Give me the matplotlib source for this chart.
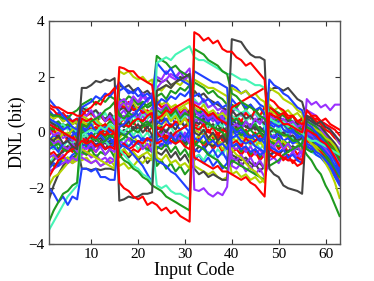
import matplotlib
matplotlib.use("Agg")
import matplotlib.pyplot as plt

codes = list(range(1, 64))

# DNL curves, one list per trace (63 codes each)
dnl_r1 = [1.0, 0.9, 0.9, 0.8, 0.7, 0.7, 0.6,
          0.6, 0.8, 0.9, 1.1, 1.0, 1.3, 1.4, 1.6,
          -1.8, -2.0, -2.1, -2.3, -2.4, -2.3, -2.6, -2.5,
          -2.6, -2.8, -2.7, -2.9, -2.8, -3.0, -3.1, -3.2,
          3.6, 3.5, 3.3, 3.4, 3.2, 3.3, 3.0, 2.9,
          2.9, 2.7, 2.6, 2.4, 2.5, 2.3, 2.1, 1.9,
          -0.6, -0.7, -0.8, -0.9, -1.0, -1.0, -1.2, -1.1,
          0.1, 0.0, -0.1, -0.3, -0.4, -0.6, -0.9, -1.2]
dnl_r2 = [-1.6, -1.3, -1.0, -0.9, -0.7, -0.6, -0.5,
          -0.3, -0.4, -0.3, -0.5, -0.4, -0.6, -0.5, -0.6,
          2.35, 2.3, 2.2, 2.2, 2.0, 1.9, 1.8, 1.7,
          0.5, 0.6, 0.8, 0.7, 0.9, 1.0, 1.1, 1.2,
          -0.9, -1.0, -1.1, -1.2, -1.3, -1.2, -1.4, -1.4,
          -1.5, -1.6, -1.7, -1.6, -1.8, -1.9, -2.1, -2.3,
          0.7, 0.6, 0.5, 0.3, 0.3, 0.2, 0.1, 0.0,
          0.8, 0.6, 0.6, 0.4, 0.5, 0.3, 0.2, 0.1]
dnl_r3 = [0.3, 0.2, 0.1, 0.0, -0.1, -0.2, -0.3,
          0.5, 0.4, 0.5, 0.3, 0.2, 0.3, 0.1, 0.0,
          0.2, 0.3, 0.2, 0.4, 0.5, 0.4, 0.6, 0.7,
          -0.4, -0.3, -0.2, -0.2, 0.0, 0.1, 0.2, 0.3,
          1.0, 0.9, 0.8, 0.6, 0.7, 0.5, 0.4, 0.3,
          0.9, 1.0, 1.1, 1.2, 1.3, 1.4, 1.5, 1.6,
          1.2, 1.1, 0.9, 0.8, 0.6, 0.6, 0.4, 0.3,
          0.6, 0.5, 0.5, 0.4, 0.3, 0.2, 0.1, -0.1]
dnl_r4 = [-0.8, -0.7, -0.9, -0.6, -0.5, -0.7, -0.4,
          -0.2, -0.3, -0.1, -0.2, 0.0, -0.1, 0.1, 0.0,
          -0.5, -0.4, -0.6, -0.5, -0.3, -0.4, -0.2, -0.3,
          0.2, 0.1, 0.3, 0.2, 0.4, 0.3, 0.5, 0.4,
          0.2, 0.1, 0.3, 0.0, 0.2, -0.1, 0.1, 0.0,
          -0.4, -0.3, -0.5, -0.2, -0.4, -0.3, -0.1, -0.2,
          -0.8, -0.9, -0.7, -1.0, -0.8, -1.1, -0.9, -1.0,
          -0.3, -0.4, -0.6, -0.7, -0.9, -1.1, -1.4, -1.8]
dnl_r5 = [0.9, 0.8, 0.6, 0.7, 0.5, 0.4, 0.5,
          0.2, 0.3, 0.1, 0.2, 0.0, 0.1, -0.1, 0.0,
          1.0, 0.9, 1.1, 0.8, 0.9, 0.7, 0.8, 0.6,
          0.0, -0.2, -0.1, -0.3, -0.4, -0.3, -0.5, -0.6,
          0.3, 0.2, 0.0, 0.1, -0.1, -0.2, -0.1, -0.3,
          0.5, 0.6, 0.4, 0.7, 0.5, 0.8, 0.6, 0.9,
          0.9, 0.8, 0.6, 0.7, 0.5, 0.6, 0.4, 0.5,
          0.5, 0.6, 0.4, 0.3, 0.1, 0.0, -0.2, -0.3]
dnl_r6 = [-0.1, 0.1, -0.2, 0.0, -0.3, -0.1, -0.4,
          0.8, 0.6, 0.7, 0.5, 0.6, 0.4, 0.5, 0.3,
          -0.9, -0.7, -0.8, -0.6, -0.7, -0.5, -0.6, -0.4,
          1.1, 0.9, 1.0, 0.8, 0.9, 0.7, 0.8, 0.6,
          0.0, 0.2, -0.1, 0.1, -0.2, 0.0, -0.3, -0.1,
          -0.7, -0.6, -0.8, -0.6, -0.9, -0.7, -1.0, -0.8,
          0.3, 0.5, 0.2, 0.4, 0.1, 0.3, 0.0, 0.2,
          0.3, 0.2, 0.1, -0.1, -0.2, -0.4, -0.6, -0.9]
dnl_r7 = [-0.4, -0.6, -0.3, -0.5, -0.2, -0.4, -0.1,
          -0.6, -0.8, -0.5, -0.7, -0.4, -0.6, -0.3, -0.5,
          0.3, 0.5, 0.2, 0.4, 0.1, 0.3, 0.0, 0.2,
          0.6, 0.4, 0.7, 0.5, 0.8, 0.6, 0.9, 0.7,
          -0.4, -0.2, -0.5, -0.3, -0.6, -0.4, -0.7, -0.5,
          0.0, 0.2, -0.1, 0.1, -0.2, 0.0, -0.3, -0.1,
          -0.5, -0.3, -0.6, -0.4, -0.7, -0.5, -0.8, -0.6,
          -0.1, -0.2, -0.4, -0.5, -0.7, -0.9, -1.2, -1.6]

dnl_g1 = [-3.2, -2.8, -2.5, -2.2, -2.1, -1.9, -1.8,
          0.3, 0.2, 0.4, 0.5, 0.6, 0.8, 0.9, 1.1,
          -0.8, -1.0, -1.1, -1.3, -1.4, -1.6, -1.7, -1.9,
          -2.0, -2.1, -2.3, -2.4, -2.5, -2.6, -2.7, -2.8,
          3.0, 2.9, 2.8, 2.6, 2.5, 2.4, 2.2, 2.1,
          1.4, 1.3, 1.1, 1.0, 0.9, 0.8, 0.6, 0.5,
          0.2, 0.1, 0.0, -0.1, -0.1, -0.3, -0.3, -0.5,
          -0.8, -1.0, -1.3, -1.5, -1.9, -2.2, -2.6, -3.0]
dnl_g2 = [0.7, 0.6, 0.6, 0.5, 0.5, 0.7, 0.8,
          1.0, 1.1, 1.2, 1.0, 1.2, 1.1, 1.3, 1.2,
          0.6, 0.5, 0.7, 0.6, 0.8, 0.9, 1.0, 1.1,
          2.75, 2.6, 2.5, 2.3, 2.4, 2.2, 2.1, 2.0,
          0.6, 0.5, 0.4, 0.3, 0.2, 0.1, 0.0, -0.2,
          0.2, 0.1, 0.2, 0.0, 0.1, -0.1, 0.0, -0.2,
          -1.2, -1.1, -1.0, -0.8, -0.7, -0.6, -0.5, -0.4,
          0.2, 0.1, 0.0, -0.1, -0.3, -0.5, -0.7, -1.0]
dnl_g3 = [-0.3, -0.5, -0.4, -0.6, -0.7, -0.6, -0.8,
          -0.7, -0.8, -0.6, -0.9, -0.7, -0.8, -0.6, -0.9,
          1.2, 1.1, 1.3, 1.2, 1.0, 1.1, 0.9, 1.0,
          1.3, 1.4, 1.2, 1.5, 1.4, 1.6, 1.5, 1.7,
          -0.4, -0.5, -0.6, -0.8, -0.9, -1.0, -1.2, -1.3,
          -1.0, -1.1, -1.2, -1.3, -1.4, -1.5, -1.6, -1.7,
          0.5, 0.4, 0.5, 0.3, 0.2, 0.1, 0.0, -0.1,
          -0.6, -0.7, -0.6, -0.8, -0.9, -1.1, -1.3, -1.6]
dnl_g4 = [0.2, 0.1, 0.3, 0.0, -0.1, 0.1, -0.2,
          -0.4, -0.5, -0.3, -0.2, -0.4, -0.3, -0.1, -0.2,
          -0.3, -0.2, 0.0, 0.1, 0.0, 0.2, 0.3, 0.2,
          0.8, 0.7, 0.9, 0.6, 0.8, 0.5, 0.7, 0.6,
          1.8, 1.7, 1.6, 1.4, 1.5, 1.3, 1.2, 1.0,
          0.4, 0.5, 0.3, 0.4, 0.2, 0.3, 0.1, 0.0,
          -0.3, -0.4, -0.2, -0.5, -0.4, -0.6, -0.5, -0.7,
          0.4, 0.3, 0.2, 0.0, -0.2, -0.3, -0.6, -0.8]
dnl_g5 = [-1.0, -1.2, -1.1, -1.0, -0.9, -1.0, -0.8,
          0.1, 0.0, 0.2, 0.1, 0.3, 0.2, 0.4, 0.3,
          0.0, -0.1, -0.2, -0.3, -0.4, -0.5, -0.6, -0.7,
          -0.5, -0.6, -0.4, -0.7, -0.5, -0.8, -0.6, -0.9,
          0.7, 0.8, 0.6, 0.7, 0.5, 0.6, 0.4, 0.5,
          0.0, 0.1, -0.1, 0.0, -0.2, -0.1, -0.3, -0.2,
          0.9, 0.8, 0.7, 0.6, 0.5, 0.4, 0.2, 0.1,
          -0.2, -0.3, -0.5, -0.6, -0.8, -1.0, -1.2, -1.5]
dnl_g6 = [0.5, 0.3, 0.4, 0.2, 0.3, 0.1, 0.2,
          -0.1, 0.1, -0.2, 0.0, -0.1, 0.1, -0.2, 0.0,
          0.7, 0.5, 0.6, 0.4, 0.5, 0.3, 0.4, 0.2,
          -0.2, 0.0, -0.3, -0.1, -0.4, -0.2, -0.5, -0.3,
          -0.5, -0.3, -0.4, -0.2, -0.3, -0.1, -0.2, 0.0,
          1.0, 0.9, 1.1, 0.8, 1.0, 0.7, 0.9, 0.6,
          -0.6, -0.4, -0.5, -0.3, -0.4, -0.2, -0.3, -0.1,
          -0.1, -0.2, -0.2, -0.4, -0.5, -0.7, -0.9, -1.2]
dnl_g7 = [-0.5, -0.3, -0.6, -0.4, -0.7, -0.5, -0.8,
          -0.2, -0.4, -0.1, -0.3, 0.0, -0.2, 0.1, -0.1,
          0.4, 0.2, 0.5, 0.3, 0.6, 0.4, 0.7, 0.5,
          -1.2, -1.0, -1.3, -1.1, -1.4, -1.2, -1.5, -1.3,
          0.3, 0.5, 0.2, 0.4, 0.1, 0.3, 0.0, 0.2,
          -0.6, -0.4, -0.7, -0.5, -0.8, -0.6, -0.9, -0.7,
          0.0, -0.2, 0.1, -0.1, 0.2, 0.0, 0.3, 0.1,
          0.1, 0.0, -0.2, -0.3, -0.5, -0.6, -0.9, -1.2]

dnl_b1 = [-2.0, -2.2, -2.5, -2.3, -2.6, -2.3, -2.4,
          -1.3, -1.3, -1.4, -1.3, -1.6, -1.6, -1.7, -1.7,
          0.2, 0.3, 0.5, 0.6, 0.8, 1.0, 1.2, 1.3,
          -0.3, -0.2, -0.4, -0.1, -0.3, 0.0, -0.2, 0.1,
          2.2, 2.1, 2.0, 1.9, 1.8, 1.8, 1.7, 1.6,
          -0.5, -0.4, -0.6, -0.5, -0.7, -0.6, -0.8, -0.7,
          1.9, 1.7, 1.6, 1.4, 1.3, 1.1, 0.9, 0.8,
          0.3, 0.2, 0.0, -0.2, -0.4, -0.7, -1.0, -1.3]
dnl_b2 = [1.2, 1.0, 0.8, 0.6, 0.4, 0.2, 0.1,
          0.9, 1.0, 1.1, 1.3, 1.2, 1.4, 1.3, 1.5,
          1.8, 1.6, 1.5, 1.4, 1.6, 1.3, 1.4, 1.2,
          2.5, 2.3, 2.1, 2.3, 2.0, 1.9, 1.8, 1.7,
          -0.2, -0.3, -0.1, -0.4, -0.3, -0.5, -0.4, -0.6,
          0.2, 0.0, 0.1, -0.1, -0.2, -0.1, -0.3, -0.2,
          0.3, 0.2, 0.4, 0.1, 0.0, 0.1, -0.2, -0.1,
          -0.4, -0.5, -0.7, -0.8, -1.0, -1.2, -1.5, -1.8]
dnl_b3 = [-0.6, -0.5, -0.7, -0.4, -0.3, -0.1, 0.0,
          0.2, 0.1, 0.3, 0.0, 0.1, 0.2, 0.0, 0.1,
          -0.4, -0.5, -0.6, -0.8, -1.0, -1.2, -1.5, -1.8,
          1.0, 1.2, 1.1, 1.3, 1.2, 1.4, 1.3, 1.5,
          1.3, 1.4, 1.1, 1.2, 1.0, 1.1, 0.9, 1.0,
          -0.2, -0.1, -0.3, -0.4, -0.3, -0.5, -0.6, -0.7,
          -0.5, -0.6, -0.7, -0.6, -0.9, -0.8, -1.0, -1.1,
          -0.1, -0.2, -0.4, -0.5, -0.7, -0.9, -1.2, -1.5]
dnl_b4 = [0.5, 0.4, 0.3, 0.1, 0.2, 0.0, -0.1,
          -0.5, -0.4, -0.6, -0.5, -0.4, -0.6, -0.5, -0.4,
          -0.6, -0.4, -0.5, -0.3, -0.4, -0.2, -0.3, -0.1,
          -1.0, -1.1, -1.2, -1.4, -1.5, -1.7, -1.9, -2.1,
          0.6, 0.5, 0.7, 0.4, 0.6, 0.3, 0.5, 0.2,
          1.2, 1.0, 1.1, 0.9, 1.0, 0.8, 0.9, 0.7,
          -0.1, -0.2, 0.0, -0.3, -0.2, -0.4, -0.3, -0.5,
          0.1, 0.0, -0.2, -0.3, -0.5, -0.7, -1.0, -1.4]
dnl_b5 = [-1.3, -1.1, -1.2, -0.9, -1.0, -0.8, -0.7,
          0.2, 0.0, -0.1, -0.2, -0.1, -0.3, -0.2, -0.4,
          1.5, 1.6, 1.4, 1.5, 1.3, 1.4, 1.2, 1.3,
          0.4, 0.3, 0.5, 0.2, 0.3, 0.1, 0.2, 0.0,
          -0.6, -0.7, -0.5, -0.8, -0.6, -0.9, -0.7, -1.0,
          1.7, 1.6, 1.4, 1.5, 1.3, 1.2, 1.0, 0.9,
          0.4, 0.3, 0.2, 0.3, 0.1, 0.0, -0.1, -0.2,
          -0.5, -0.6, -0.8, -0.9, -1.1, -1.3, -1.6, -1.9]
dnl_b6 = [-0.3, -0.1, -0.2, 0.0, -0.1, 0.1, 0.0,
          -0.7, -0.5, -0.6, -0.4, -0.5, -0.3, -0.4, -0.2,
          0.1, -0.1, 0.0, -0.2, -0.1, -0.3, -0.2, -0.4,
          -0.6, -0.4, -0.5, -0.3, -0.4, -0.2, -0.3, -0.1,
          0.9, 0.7, 0.8, 0.6, 0.7, 0.5, 0.6, 0.4,
          0.1, -0.1, 0.0, -0.2, -0.1, -0.3, -0.2, -0.4,
          -0.3, -0.1, -0.2, 0.0, -0.1, 0.1, 0.0, 0.2,
          0.0, -0.1, -0.3, -0.4, -0.6, -0.8, -1.1, -1.5]
dnl_b7 = [0.8, 0.6, 0.7, 0.5, 0.6, 0.4, 0.5,
          -0.1, -0.3, 0.0, -0.2, 0.1, -0.1, 0.2, 0.0,
          0.8, 1.0, 0.7, 0.9, 0.6, 0.8, 0.5, 0.7,
          0.5, 0.7, 0.4, 0.6, 0.3, 0.5, 0.2, 0.4,
          -1.0, -0.8, -1.1, -0.9, -1.2, -1.0, -1.3, -1.1,
          0.3, 0.5, 0.2, 0.4, 0.1, 0.3, 0.0, 0.2,
          -0.9, -0.7, -0.8, -0.6, -0.7, -0.5, -0.6, -0.4,
          0.5, 0.4, 0.2, 0.1, -0.1, -0.3, -0.5, -0.8]

dnl_k1 = [-0.2, -0.3, -0.1, -0.4, -0.3, -0.5, -0.6,
          1.6, 1.6, 1.7, 1.85, 1.8, 1.9, 1.85, 1.95,
          -2.45, -2.4, -2.3, -2.35, -2.3, -2.2, -2.2, -2.15,
          1.5, 1.6, 1.7, 1.6, 1.8, 1.9, 2.0, 2.1,
          0.0, -0.1, 0.1, -0.2, 0.0, -0.3, -0.1, -0.4,
          3.35, 3.3, 3.25, 3.0, 2.8, 2.7, 2.7, 2.6,
          -1.3, -1.5, -1.6, -1.9, -2.0, -2.05, -2.1, -2.2,
          0.6, 0.5, 0.3, 0.4, 0.2, 0.1, -0.1, -0.3]
dnl_k2 = [-1.2, -1.0, -0.8, -0.7, -0.5, -0.6, -0.4,
          0.9, 0.8, 0.7, 0.8, 0.6, 0.5, 0.6, 0.4,
          0.3, 0.2, 0.4, 0.1, 0.3, 0.0, 0.2, -0.1,
          -0.7, -0.8, -0.6, -0.9, -0.7, -1.0, -0.8, -1.1,
          -1.3, -1.5, -1.4, -1.6, -1.5, -1.6, -1.7, -1.7,
          0.8, 0.6, 0.7, 0.5, 0.6, 0.4, 0.5, 0.3,
          1.5, 1.6, 1.6, 1.5, 1.6, 1.4, 1.2, 1.1,
          0.5, 0.4, 0.3, 0.2, 0.0, -0.2, -0.4, -0.7]
dnl_k3 = [0.4, 0.3, 0.2, 0.0, -0.2, -0.3, -0.5,
          -1.3, -1.3, -1.35, -1.3, -1.35, -1.3, -1.3, -1.35,
          1.7, 1.6, 1.7, 1.5, 1.6, 1.4, 1.5, 1.3,
          0.1, 0.2, 0.0, 0.3, 0.1, 0.4, 0.2, 0.5,
          1.5, 1.3, 1.4, 1.2, 1.1, 1.0, 0.9, 0.8,
          -0.8, -0.9, -1.0, -0.9, -1.1, -1.2, -1.1, -1.3,
          0.0, 0.1, -0.1, 0.0, -0.2, -0.1, -0.3, -0.2,
          0.1, 0.0, -0.1, -0.3, -0.5, -0.8, -1.0, -1.3]
dnl_k4 = [-2.4, -1.9, -1.5, -1.2, -1.0, -0.9, -0.8,
          -0.3, -0.4, -0.2, -0.5, -0.3, -0.6, -0.4, -0.5,
          0.8, 0.9, 0.7, 1.0, 0.8, 1.1, 0.9, 1.0,
          1.9, 1.8, 1.9, 1.7, 1.8, 2.0, 1.9, 2.1,
          0.4, 0.3, 0.5, 0.2, 0.3, 0.1, 0.2, 0.0,
          0.3, 0.2, 0.4, 0.2, 0.1, 0.2, 0.0, -0.1,
          -0.8, -0.7, -0.8, -0.6, -0.7, -0.5, -0.6, -0.4,
          -0.2, -0.3, -0.4, -0.6, -0.7, -0.9, -1.1, -1.4]
dnl_k5 = [0.0, 0.2, 0.1, 0.3, 0.2, 0.4, 0.3,
          0.0, -0.2, -0.1, -0.3, -0.2, -0.4, -0.3, -0.5,
          -0.1, 0.1, 0.0, 0.2, 0.1, 0.3, 0.2, 0.4,
          0.3, 0.5, 0.4, 0.6, 0.5, 0.7, 0.6, 0.8,
          -0.7, -0.5, -0.6, -0.4, -0.5, -0.3, -0.4, -0.2,
          0.5, 0.3, 0.4, 0.2, 0.3, 0.1, 0.2, 0.0,
          0.6, 0.8, 0.5, 0.7, 0.4, 0.6, 0.3, 0.5,
          -0.5, -0.6, -0.6, -0.8, -0.9, -1.1, -1.3, -1.6]
dnl_k6 = [0.7, 0.5, 0.6, 0.4, 0.5, 0.3, 0.4,
          0.4, 0.2, 0.5, 0.3, 0.6, 0.4, 0.7, 0.5,
          -0.8, -0.6, -0.9, -0.7, -1.0, -0.8, -1.1, -0.9,
          -0.1, 0.1, -0.2, 0.0, -0.3, -0.1, -0.4, -0.2,
          0.6, 0.8, 0.5, 0.7, 0.4, 0.6, 0.3, 0.5,
          -1.1, -0.9, -1.2, -1.0, -1.3, -1.1, -1.4, -1.2,
          0.7, 0.5, 0.6, 0.4, 0.5, 0.3, 0.4, 0.2,
          0.2, 0.1, -0.1, -0.2, -0.4, -0.6, -0.8, -1.1]

dnl_y1 = [-1.9, -1.6, -1.5, -1.3, -1.1, -1.0, -0.9,
          -0.6, -0.7, -0.8, -0.9, -1.0, -1.1, -1.2, -1.3,
          2.2, 2.1, 2.2, 2.0, 1.9, 2.0, 1.8, 1.9,
          0.6, 0.5, 0.7, 0.4, 0.6, 0.3, 0.5, 0.2,
          1.9, 1.8, 1.7, 1.6, 1.6, 1.5, 1.4, 1.3,
          -0.6, -0.8, -0.9, -1.1, -1.3, -1.4, -1.6, -1.8,
          1.6, 1.5, 1.4, 1.2, 1.1, 1.0, 0.8, 0.7,
          -0.2, -0.4, -0.6, -0.8, -1.1, -1.4, -1.8, -2.35]
dnl_y2 = [-0.4, -0.2, -0.3, 0.0, -0.1, 0.1, 0.2,
          0.6, 0.5, 0.4, 0.5, 0.3, 0.2, 0.3, 0.1,
          1.1, 1.0, 0.9, 1.1, 0.8, 0.9, 0.7, 0.8,
          -0.9, -1.0, -0.8, -1.1, -1.0, -1.2, -1.1, -1.3,
          0.9, 0.8, 1.0, 0.7, 0.8, 0.6, 0.7, 0.5,
          1.6, 1.5, 1.4, 1.5, 1.3, 1.4, 1.2, 1.1,
          -0.2, -0.3, -0.4, -0.3, -0.5, -0.6, -0.5, -0.7,
          0.3, 0.2, 0.1, 0.0, -0.2, -0.3, -0.5, -0.8]
dnl_y3 = [0.6, 0.5, 0.6, 0.4, 0.5, 0.3, 0.4,
          -1.0, -0.9, -1.1, -1.0, -1.2, -1.1, -1.0, -1.2,
          -0.7, -0.6, -0.8, -0.7, -0.9, -0.8, -0.7, -0.9,
          0.2, 0.3, 0.4, 0.6, 0.7, 0.9, 1.0, 1.1,
          -1.2, -1.3, -1.4, -1.5, -1.4, -1.6, -1.7, -1.6,
          -0.2, -0.3, -0.1, -0.4, -0.2, -0.5, -0.3, -0.6,
          0.8, 0.7, 0.6, 0.7, 0.5, 0.6, 0.4, 0.3,
          0.6, 0.5, 0.4, 0.3, 0.1, 0.0, -0.2, -0.4]
dnl_y4 = [-0.7, -0.9, -0.8, -1.0, -0.9, -1.1, -1.0,
          0.4, 0.3, 0.2, 0.4, 0.1, 0.2, 0.0, 0.1,
          -1.2, -1.1, -1.3, -1.2, -1.0, -1.1, -0.9, -1.0,
          1.6, 1.5, 1.7, 1.6, 1.8, 1.7, 1.9, 1.8,
          0.1, 0.0, -0.1, -0.2, -0.1, -0.3, -0.4, -0.5,
          -1.5, -1.4, -1.6, -1.5, -1.7, -1.6, -1.8, -1.7,
          0.2, 0.1, 0.0, -0.1, -0.2, -0.3, -0.4, -0.5,
          -0.3, -0.4, -0.5, -0.7, -0.9, -1.1, -1.4, -1.7]
dnl_y5 = [0.2, 0.0, 0.1, -0.1, 0.0, -0.2, -0.1,
          0.3, 0.5, 0.2, 0.4, 0.1, 0.3, 0.0, 0.2,
          -0.2, 0.0, -0.3, -0.1, -0.4, -0.2, -0.5, -0.3,
          1.2, 1.0, 1.1, 0.9, 1.0, 0.8, 0.9, 0.7,
          -0.3, -0.1, -0.4, -0.2, -0.5, -0.3, -0.6, -0.4,
          -0.1, 0.1, -0.2, 0.0, -0.3, -0.1, -0.4, -0.2,
          1.0, 0.8, 0.9, 0.7, 0.8, 0.6, 0.7, 0.5,
          0.0, -0.1, -0.1, -0.3, -0.4, -0.5, -0.7, -1.0]

dnl_p1 = [-0.9, -0.8, -1.0, -0.8, -1.1, -0.9, -1.0,
          -0.5, -0.6, -0.4, -0.7, -0.5, -0.8, -0.6, -0.7,
          1.1, 1.2, 1.0, 1.3, 1.1, 1.4, 1.2, 1.3,
          2.0, 1.9, 2.2, 2.0, 1.9, 2.2, 1.9, 2.1,
          -2.05, -2.1, -2.0, -2.2, -2.3, -2.15, -2.25, -1.95,
          0.2, 0.3, 0.1, 0.4, 0.2, 0.5, 0.3, 0.6,
          -0.4, -0.5, -0.3, -0.6, -0.4, -0.7, -0.5, -0.8,
          1.2, 1.0, 1.1, 0.9, 1.0, 0.8, 1.0, 1.0]
dnl_p2 = [-0.2, -0.4, -0.3, -0.5, -0.6, -0.4, -0.7,
          0.7, 0.6, 0.8, 0.5, 0.7, 0.4, 0.6, 0.3,
          0.9, 1.1, 0.8, 1.2, 1.0, 1.3, 1.1, 1.4,
          1.6, 1.8, 1.9, 2.1, 2.0, 2.2, 2.1, 2.3,
          0.8, 0.6, 0.7, 0.5, 0.6, 0.4, 0.5, 0.3,
          -0.9, -1.0, -0.8, -1.1, -0.9, -1.2, -1.0, -1.3,
          0.6, 0.5, 0.4, 0.5, 0.3, 0.4, 0.2, 0.3,
          -0.1, -0.2, -0.3, -0.5, -0.6, -0.8, -1.0, -1.2]
dnl_p3 = [0.1, -0.1, 0.0, -0.2, -0.1, -0.3, -0.2,
          -0.8, -0.7, -0.9, -0.8, -1.0, -0.9, -1.1, -1.0,
          -0.3, -0.4, -0.2, -0.5, -0.3, -0.6, -0.4, -0.7,
          0.9, 0.8, 1.0, 0.7, 0.9, 0.6, 0.8, 0.5,
          0.4, 0.5, 0.3, 0.6, 0.4, 0.7, 0.5, 0.8,
          -1.2, -1.3, -1.1, -1.4, -1.2, -1.5, -1.3, -1.6,
          -1.0, -0.9, -1.1, -0.8, -1.0, -0.7, -0.9, -0.6,
          0.8, 0.7, 0.6, 0.4, 0.3, 0.1, -0.1, -0.4]
dnl_p4 = [-1.4, -1.3, -1.2, -1.1, -1.0, -1.1, -0.9,
          -0.9, -1.0, -1.1, -1.0, -1.2, -1.1, -0.9, -1.0,
          0.5, 0.6, 0.4, 0.7, 0.5, 0.8, 0.6, 0.9,
          0.0, -0.1, 0.1, -0.2, 0.0, -0.3, -0.1, -0.4,
          1.1, 1.0, 1.2, 0.9, 1.0, 0.8, 0.9, 0.7,
          -0.5, -0.6, -0.4, -0.7, -0.5, -0.8, -0.6, -0.9,
          -0.2, -0.1, -0.3, 0.0, -0.2, 0.1, -0.1, 0.2,
          0.0, -0.1, -0.2, -0.3, -0.5, -0.6, -0.8, -1.1]
dnl_p5 = [0.4, 0.2, 0.3, 0.1, 0.2, 0.0, 0.1,
          -0.3, -0.1, -0.4, -0.2, -0.5, -0.3, -0.6, -0.4,
          0.6, 0.8, 0.5, 0.7, 0.4, 0.6, 0.3, 0.5,
          -0.3, -0.5, -0.2, -0.4, -0.1, -0.3, 0.0, -0.2,
          0.5, 0.3, 0.6, 0.4, 0.7, 0.5, 0.8, 0.6,
          0.7, 0.9, 0.6, 0.8, 0.5, 0.7, 0.4, 0.6,
          -0.7, -0.5, -0.8, -0.6, -0.9, -0.7, -1.0, -0.8,
          0.4, 0.3, 0.2, 0.1, -0.1, -0.2, -0.4, -0.6]

dnl_a1 = [-3.5, -3.2, -2.9, -2.6, -2.3, -2.1, -1.9,
          -0.1, 0.0, 0.1, 0.0, 0.2, 0.1, 0.3, 0.2,
          -0.6, -0.8, -1.0, -1.2, -1.3, -1.5, -1.6, -1.8,
          2.5, 2.6, 2.7, 2.6, 2.8, 2.9, 3.0, 3.1,
          2.7, 2.6, 2.6, 2.5, 2.4, 2.3, 2.2, 2.1,
          2.1, 2.0, 1.9, 1.9, 1.8, 1.7, 1.7, 1.6,
          0.5, 0.4, 0.3, 0.4, 0.2, 0.3, 0.1, 0.0,
          -0.2, -0.3, -0.3, -0.4, -0.5, -0.6, -0.7, -0.8]
dnl_a2 = [-0.5, -0.6, -0.4, -0.5, -0.3, -0.4, -0.2,
          0.5, 0.4, 0.3, 0.4, 0.2, 0.1, 0.2, 0.0,
          0.1, 0.0, 0.2, -0.1, 0.1, -0.2, 0.0, -0.3,
          -1.9, -2.0, -1.9, -2.1, -2.2, -2.2, -2.3, -2.4,
          0.1, 0.2, 0.0, 0.3, 0.1, 0.4, 0.2, 0.5,
          0.6, 0.5, 0.7, 0.4, 0.6, 0.3, 0.5, 0.2,
          -0.4, -0.5, -0.3, -0.6, -0.4, -0.7, -0.5, -0.8,
          0.2, 0.1, 0.0, -0.1, -0.2, -0.3, -0.5, -0.6]
dnl_a3 = [0.3, 0.4, 0.2, 0.3, 0.1, 0.2, 0.0,
          -0.2, -0.1, -0.3, -0.2, -0.4, -0.3, -0.5, -0.4,
          0.4, 0.5, 0.3, 0.6, 0.4, 0.7, 0.5, 0.8,
          0.7, 0.6, 0.8, 0.5, 0.7, 0.4, 0.6, 0.3,
          -0.9, -0.8, -1.0, -0.7, -0.9, -0.6, -0.8, -0.5,
          0.9, 0.8, 0.7, 0.8, 0.6, 0.7, 0.5, 0.6,
          0.1, 0.0, 0.2, -0.1, 0.0, -0.2, -0.1, -0.3,
          -0.4, -0.5, -0.6, -0.7, -0.8, -0.9, -1.1, -1.3]
dnl_a4 = [-1.1, -0.9, -0.8, -0.6, -0.5, -0.3, -0.2,
          0.7, 0.9, 0.6, 0.8, 0.5, 0.7, 0.4, 0.6,
          -0.4, -0.2, -0.5, -0.3, -0.6, -0.4, -0.7, -0.5,
          0.1, 0.3, 0.0, 0.2, -0.1, 0.1, -0.2, 0.0,
          1.2, 1.0, 1.1, 0.9, 1.0, 0.8, 0.9, 0.7,
          -0.3, -0.1, -0.4, -0.2, -0.5, -0.3, -0.6, -0.4,
          0.2, 0.4, 0.1, 0.3, 0.0, 0.2, -0.1, 0.1,
          -0.6, -0.7, -0.8, -0.9, -1.0, -1.1, -1.3, -1.5]

RED = "#ff0000"
GREEN = "#1f9a1f"
BLUE = "#2040ff"
GRAY = "#444444"
YGREEN = "#b4d400"
PURPLE = "#9a30ff"
AQUA = "#45f5b5"

series = [
    (dnl_r7, RED), (dnl_k6, GRAY), (dnl_b7, BLUE), (dnl_g7, GREEN),
    (dnl_a4, AQUA), (dnl_p5, PURPLE), (dnl_y5, YGREEN), (dnl_k5, GRAY),
    (dnl_b6, BLUE), (dnl_g6, GREEN), (dnl_r6, RED),
    (dnl_k4, GRAY), (dnl_y3, YGREEN), (dnl_a3, AQUA), (dnl_p4, PURPLE),
    (dnl_g5, GREEN), (dnl_b5, BLUE), (dnl_r5, RED),
    (dnl_k3, GRAY), (dnl_y4, YGREEN), (dnl_a2, AQUA), (dnl_p3, PURPLE),
    (dnl_g4, GREEN), (dnl_b4, BLUE), (dnl_r4, RED),
    (dnl_k2, GRAY), (dnl_y2, YGREEN), (dnl_p2, PURPLE),
    (dnl_g3, GREEN), (dnl_b3, BLUE), (dnl_r3, RED),
    (dnl_y1, YGREEN), (dnl_p1, PURPLE), (dnl_g2, GREEN), (dnl_b2, BLUE),
    (dnl_a1, AQUA), (dnl_b1, BLUE), (dnl_g1, GREEN), (dnl_r2, RED),
    (dnl_k1, GRAY), (dnl_r1, RED),
]

plt.rcParams["font.family"] = ["Liberation Serif", "DejaVu Serif"]

fig = plt.figure(figsize=(3.74, 2.81), dpi=100)
ax = fig.add_axes([0.131, 0.132, 0.777, 0.793])

for vals, col in series:
    ax.plot(codes, vals, color=col, linewidth=1.5)

ax.set_xlim(1, 63)
ax.set_ylim(-4, 4)
ax.set_xticks([10, 20, 30, 40, 50, 60])
ax.set_yticks([-4, -2, 0, 2, 4])
ax.tick_params(direction="in", top=True, right=True, length=3.5,
               labelsize=11, colors="#333333", labelcolor="black", pad=3)
for sp in ax.spines.values():
    sp.set_color("#555555")
    sp.set_linewidth(1.0)

ax.set_xlabel("Input Code", fontsize=13, labelpad=1)
ax.set_ylabel("DNL (bit)", fontsize=13, labelpad=2)

fig.savefig("out.png", dpi=100)
